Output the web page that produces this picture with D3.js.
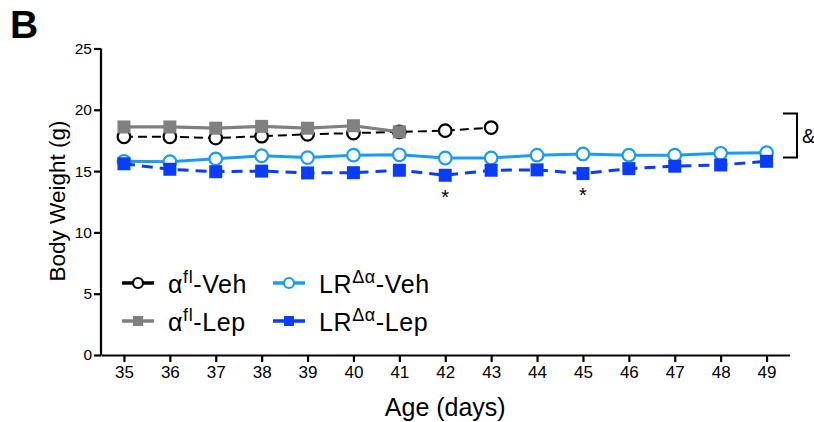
<!DOCTYPE html>
<html>
<head>
<meta charset="utf-8">
<script src="https://cdn.jsdelivr.net/npm/d3@7"></script>
<style>
  body { margin: 0; background: #fff; }
  svg { display: block; font-family: "Liberation Sans", Arial, sans-serif; }
  .axis path, .axis line { stroke: #000; stroke-width: 2.2; }
  .axis text { fill: #000; }
</style>
</head>
<body>
<div id="chart"></div>
<script>
// data
const days = [35, 36, 37, 38, 39, 40, 41, 42, 43, 44, 45, 46, 47, 48, 49];
const flVeh = [17.8, 17.8, 17.7, 17.85, 18.0, 18.1, 18.2, 18.3, 18.55];
const flLep = [18.6, 18.6, 18.5, 18.65, 18.5, 18.7, 18.2];
const lrVeh = [15.8, 15.77, 16.0, 16.25, 16.1, 16.3, 16.33, 16.07, 16.07, 16.3, 16.4, 16.3, 16.3, 16.45, 16.5];
const lrLep = [15.6, 15.15, 14.95, 15.0, 14.85, 14.87, 15.07, 14.66, 15.07, 15.1, 14.8, 15.2, 15.4, 15.5, 15.8];
const starDays = [42, 45];
const yTicks = [0, 5, 10, 15, 20, 25];

const width = 814, height = 422;

const svg = d3.select("#chart").append("svg")
    .attr("width", width)
    .attr("height", height);

const x = d3.scaleLinear().domain([34.5, 49.5]).range([101, 789.5]);
const y = d3.scaleLinear().domain([0, 25]).range([355, 48.5]);

// series styles
const series = [
    { name: "fl", suffix: "-Veh", values: flVeh, color: "#000", width: 2, dash: "9,5", shape: "circle", fill: "#fff" },
    { name: "fl", suffix: "-Lep", values: flLep, color: "#808080", width: 3.2, dash: null, shape: "square", fill: "#808080" },
    { name: "LR", suffix: "-Veh", values: lrVeh, color: "#1a9cf5", width: 3, dash: null, shape: "circle", fill: "#fff" },
    { name: "LR", suffix: "-Lep", values: lrLep, color: "#0a3cff", width: 3, dash: "11,7", shape: "square", fill: "#0a3cff" }
];

// axes
const xAxis = d3.axisBottom(x).tickValues(days).tickFormat(d3.format("d"))
    .tickSize(7).tickSizeOuter(0).tickPadding(4);
const yAxis = d3.axisLeft(y).tickValues(yTicks)
    .tickSize(7).tickSizeOuter(0).tickPadding(2);

const gx = svg.append("g").attr("class", "axis")
    .attr("transform", "translate(0," + y(0) + ")")
    .call(xAxis);
gx.selectAll("text").style("font-size", "17px");

const gy = svg.append("g").attr("class", "axis")
    .attr("transform", "translate(" + x(34.5) + ",0)")
    .call(yAxis);
gy.selectAll("text").style("font-size", "15.5px");
gy.select(".domain").attr("d", "M0," + y(0) + "V" + y(25));

// lines and markers
const line = d3.line()
    .x((d, i) => x(days[i]))
    .y(d => y(d));

function marker(g, s, cx, cy, r) {
    if (s.shape === "circle") {
        g.append("circle")
            .attr("cx", cx).attr("cy", cy).attr("r", r)
            .attr("fill", s.fill).attr("stroke", s.color).attr("stroke-width", 2.2);
    } else {
        g.append("rect")
            .attr("x", cx - r).attr("y", cy - r)
            .attr("width", 2 * r).attr("height", 2 * r)
            .attr("fill", s.fill);
    }
}

const plot = svg.append("g");
series.forEach(function(s) {
    const g = plot.append("g");
    g.append("path")
        .datum(s.values)
        .attr("d", line)
        .attr("fill", "none")
        .attr("stroke", s.color)
        .attr("stroke-width", s.width)
        .attr("stroke-dasharray", s.dash);
    s.values.forEach(function(v, i) {
        marker(g, s, x(days[i]), y(v), s.shape === "circle" ? 6.3 : 6.5);
    });
});

// significance stars under LR-Lep
starDays.forEach(function(d) {
    svg.append("text")
        .attr("x", x(d))
        .attr("y", y(lrLep[days.indexOf(d)]) + 28.5)
        .attr("text-anchor", "middle")
        .style("font-size", "20px")
        .text("*");
});

// bracket with &
const bx = 797, by0 = y(19.7), by1 = y(16.1);
svg.append("path")
    .attr("d", "M" + (bx - 14) + "," + by0 + "H" + bx + "V" + by1 + "H" + (bx - 14))
    .attr("fill", "none")
    .attr("stroke", "#000")
    .attr("stroke-width", 2);
svg.append("text")
    .attr("x", bx + 5)
    .attr("y", (by0 + by1) / 2 + 7)
    .style("font-size", "20px")
    .text("&");

// legend
const legendCols = [122, 273];
const legendRows = [283, 321];
series.forEach(function(s, i) {
    const lx = legendCols[i < 2 ? 0 : 1];
    const ly = legendRows[i % 2];
    const g = svg.append("g");
    g.append("line")
        .attr("x1", lx).attr("x2", lx + 32)
        .attr("y1", ly).attr("y2", ly)
        .attr("stroke", s.color).attr("stroke-width", 3.5);
    marker(g, s, lx + 16, ly, 5);
    const t = g.append("text")
        .attr("x", lx + 46)
        .attr("y", ly + 10)
        .style("font-size", "25px")
        .style("letter-spacing", "0.6px");
    t.append("tspan").text(s.name === "fl" ? "α" : "LR");
    t.append("tspan").attr("dy", -10).style("font-size", "18px")
        .text(s.name === "fl" ? "fl" : "Δα");
    t.append("tspan").attr("dy", 10).text(s.suffix);
});

// axis titles
svg.append("text")
    .attr("x", (x(34.5) + x(49.5)) / 2)
    .attr("y", 416)
    .attr("text-anchor", "middle")
    .style("font-size", "25px")
    .text("Age (days)");

svg.append("text")
    .attr("transform", "translate(64.5,201) rotate(-90)")
    .attr("text-anchor", "middle")
    .style("font-size", "22.5px")
    .text("Body Weight (g)");

// panel letter
svg.append("text")
    .attr("x", 10)
    .attr("y", 38)
    .style("font-size", "39px")
    .style("font-weight", "bold")
    .text("B");
</script>
</body>
</html>
